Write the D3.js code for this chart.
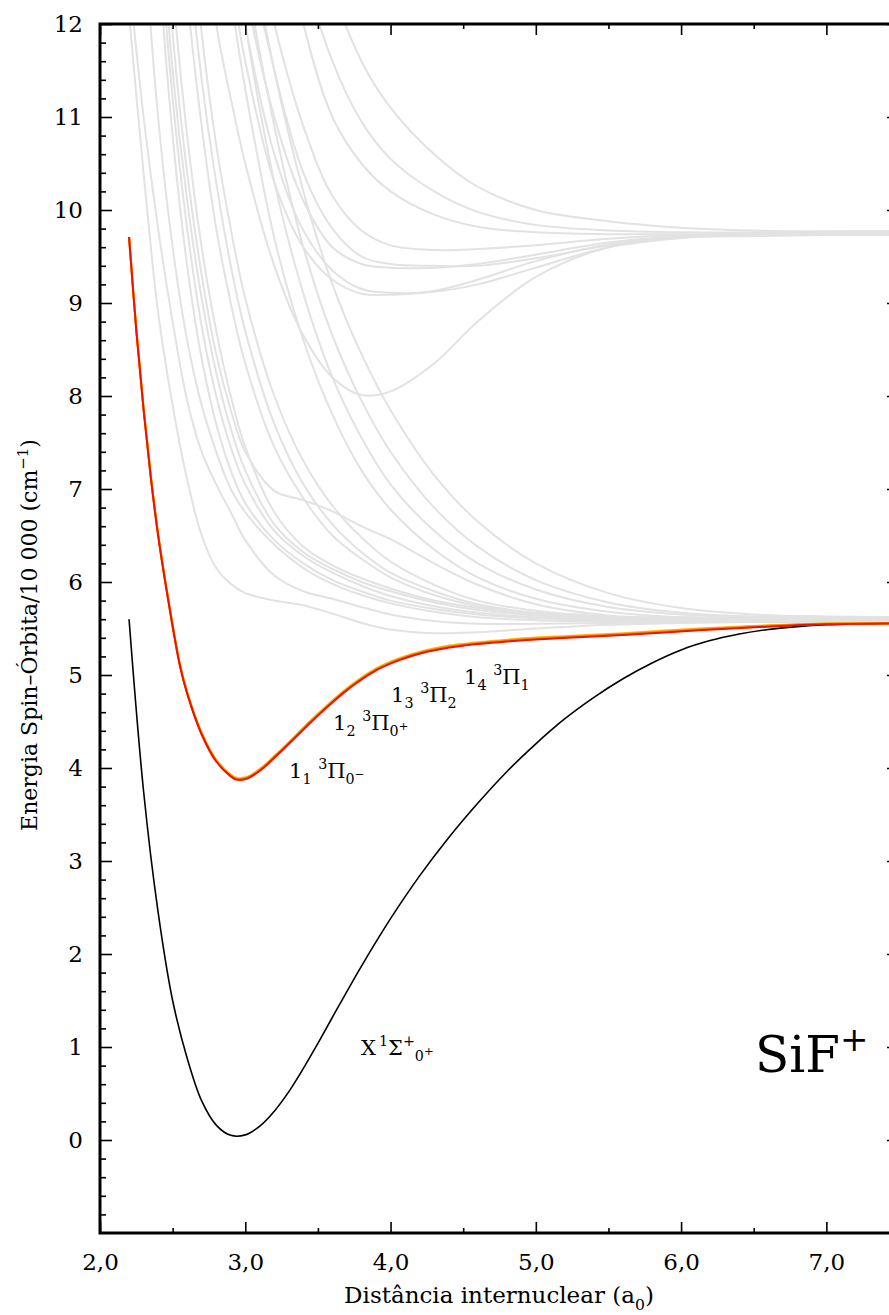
<!DOCTYPE html>
<html>
<head>
<meta charset="utf-8">
<script src="https://cdn.jsdelivr.net/npm/d3@7"></script>
<style>
  body { margin: 0; background: #fff; }
  svg { display: block; }
  text { font-family: "DejaVu Serif", serif; fill: #000; white-space: pre; }
</style>
</head>
<body>
<svg id="chart" width="889" height="1315"></svg>
<script>
// internuclear distances (a0) shared by the grey states
const rGrid = [2.2, 2.3, 2.4, 2.5, 2.6, 2.7, 2.8, 2.9, 3.0, 3.2, 3.4, 3.6, 3.8, 4.0, 4.3, 4.6, 5.0, 5.5, 6.0, 6.5, 7.0, 7.5];

// grey states, lower asymptote
const g1 = [12.1, 10.4, 8.9, 7.9, 7.1, 6.5, 6.15, 5.98, 5.88, 5.80, 5.75, 5.66, 5.56, 5.49, 5.45, 5.46, 5.50, 5.54, 5.56, 5.57, 5.57, 5.57];
const g2 = [12.5, 11.0, 9.8, 8.8, 7.95, 7.4, 7.05, 6.75, 6.45, 6.07, 5.90, 5.82, 5.73, 5.65, 5.58, 5.55, 5.55, 5.56, 5.57, 5.58, 5.58, 5.58];
const g3 = [15.5, 13.0, 11.0, 9.6, 8.6, 7.9, 7.4, 7.0, 6.75, 6.4, 6.15, 5.98, 5.86, 5.77, 5.68, 5.62, 5.59, 5.58, 5.58, 5.59, 5.59, 5.59];
const g4 = [20, 16, 12.8, 10.8, 9.4, 8.4, 7.7, 7.2, 6.85, 6.45, 6.2, 6.02, 5.9, 5.8, 5.71, 5.65, 5.61, 5.59, 5.59, 5.6, 5.6, 5.6];
const g5 = [21, 16.6, 13.2, 11.2, 9.8, 8.75, 8.0, 7.45, 7.05, 6.55, 6.28, 6.1, 5.96, 5.85, 5.74, 5.67, 5.62, 5.6, 5.6, 5.6, 5.6, 5.6];
const g6 = [22, 17.2, 13.6, 11.5, 10.1, 9.05, 8.25, 7.65, 7.2, 6.62, 6.32, 6.14, 6.0, 5.9, 5.78, 5.7, 5.64, 5.61, 5.6, 5.6, 5.61, 5.61];
const g7 = [23, 17.8, 14.2, 11.9, 10.4, 9.3, 8.45, 7.85, 7.4, 6.98, 6.88, 6.76, 6.6, 6.46, 6.2, 5.97, 5.76, 5.64, 5.61, 5.61, 5.61, 5.61];
const g8 = [24, 18.5, 14.8, 12.4, 10.8, 9.6, 8.7, 8.0, 7.45, 6.75, 6.38, 6.18, 6.04, 5.93, 5.8, 5.72, 5.65, 5.62, 5.61, 5.61, 5.62, 5.62];
const m1 = [26, 21, 17, 14, 12.3, 10.9, 9.8, 9.0, 8.35, 7.45, 6.9, 6.5, 6.25, 6.05, 5.86, 5.74, 5.66, 5.61, 5.6, 5.6, 5.6, 5.6];
const m2 = [27, 22, 18, 15, 12.9, 11.4, 10.3, 9.4, 8.7, 7.7, 7.05, 6.62, 6.32, 6.1, 5.9, 5.76, 5.67, 5.62, 5.61, 5.61, 5.61, 5.61];
const m3 = [28, 23, 19, 15.8, 13.5, 11.9, 10.7, 9.8, 9.05, 8.0, 7.3, 6.82, 6.48, 6.22, 5.97, 5.8, 5.69, 5.63, 5.62, 5.62, 5.62, 5.62];
const s1 = [30, 25, 21, 18, 16, 14.6, 13.5, 12.3, 11.3, 9.7, 8.6, 7.8, 7.2, 6.78, 6.35, 6.05, 5.82, 5.68, 5.62, 5.6, 5.6, 5.6];
const s2 = [31, 26, 22, 19, 17, 15.6, 14.5, 13.1, 12.0, 10.3, 9.1, 8.2, 7.55, 7.05, 6.55, 6.2, 5.92, 5.73, 5.65, 5.62, 5.61, 5.61];
const s3 = [32, 27, 23, 20, 18, 16.5, 15.2, 13.8, 12.6, 10.9, 9.6, 8.65, 7.95, 7.4, 6.8, 6.38, 6.02, 5.78, 5.67, 5.63, 5.62, 5.62];
const s4 = [33, 28, 24, 21, 19, 17.3, 16, 14.5, 13.2, 11.5, 10.2, 9.2, 8.45, 7.85, 7.15, 6.65, 6.2, 5.88, 5.72, 5.65, 5.63, 5.62];

// grey states, upper asymptote
const u1 = [24, 20, 17.5, 16, 15, 13.4, 12.0, 11.2, 10.5, 9.4, 8.65, 8.2, 8.01, 8.05, 8.35, 8.8, 9.28, 9.6, 9.7, 9.72, 9.73, 9.73];
const u2 = [26, 22, 19, 17, 15.5, 14.3, 13.4, 12.5, 11.6, 10.3, 9.6, 9.25, 9.1, 9.09, 9.13, 9.25, 9.45, 9.63, 9.71, 9.74, 9.75, 9.75];
const u3 = [27, 23, 20, 18, 16.5, 15.2, 14.1, 13.0, 12.0, 10.6, 9.78, 9.35, 9.15, 9.11, 9.12, 9.2, 9.38, 9.6, 9.7, 9.74, 9.76, 9.76];
const u4 = [28, 24, 21, 19, 17.3, 16.0, 14.8, 13.6, 12.4, 11.0, 10.1, 9.6, 9.42, 9.38, 9.38, 9.42, 9.52, 9.65, 9.72, 9.75, 9.76, 9.76];
const u5 = [29, 25, 22, 20, 18.2, 16.8, 15.5, 14.2, 13.0, 11.5, 10.4, 9.8, 9.5, 9.42, 9.4, 9.4, 9.48, 9.62, 9.71, 9.75, 9.77, 9.77];
const u6 = [30, 26, 23, 21, 19, 17.5, 16.2, 14.8, 13.5, 12.0, 10.9, 10.15, 9.78, 9.62, 9.57, 9.58, 9.62, 9.69, 9.73, 9.75, 9.76, 9.76];
const u7 = [34, 30, 27, 24, 22, 20, 18.5, 17, 15.6, 13.6, 12.0, 11.0, 10.5, 10.2, 9.95, 9.82, 9.76, 9.74, 9.74, 9.74, 9.74, 9.74];
const u8 = [36, 32, 29, 26, 24, 22, 20, 18.2, 16.5, 14.2, 12.6, 11.6, 10.95, 10.55, 10.2, 9.98, 9.84, 9.78, 9.76, 9.76, 9.76, 9.76];
const u9 = [38, 34, 31, 28, 26, 24, 22, 20.5, 19, 16.3, 14.0, 12.4, 11.6, 11.1, 10.6, 10.25, 10.0, 9.88, 9.81, 9.78, 9.77, 9.77];

const greyStates = [g1, g2, g3, g4, g5, g6, g7, g8, m1, m2, m3, s1, s2, s3, s4, u1, u2, u3, u4, u5, u6, u7, u8, u9];

// 3Pi spin-orbit components
const rPi = [2.2, 2.25, 2.3, 2.35, 2.4, 2.47, 2.55, 2.6, 2.7, 2.8, 2.9, 2.94, 3.0, 3.1, 3.2, 3.32, 3.45, 3.56, 3.67, 3.78, 3.9, 4.06, 4.25, 4.47, 4.8, 5.15, 5.6, 6.12, 6.6, 7.0, 7.5];
const pi0m = [9.71, 8.70, 7.85, 7.12, 6.50, 5.80, 5.10, 4.80, 4.36, 4.07, 3.91, 3.875, 3.88, 3.97, 4.11, 4.29, 4.49, 4.65, 4.80, 4.93, 5.05, 5.16, 5.25, 5.31, 5.36, 5.395, 5.43, 5.48, 5.52, 5.545, 5.555];
const pi0p = [9.71, 8.71, 7.86, 7.13, 6.51, 5.81, 5.11, 4.81, 4.37, 4.08, 3.92, 3.885, 3.89, 3.98, 4.12, 4.30, 4.50, 4.66, 4.81, 4.94, 5.06, 5.17, 5.26, 5.32, 5.37, 5.405, 5.44, 5.49, 5.53, 5.55, 5.56];
const pi2 = [9.71, 8.72, 7.87, 7.14, 6.52, 5.82, 5.12, 4.82, 4.38, 4.09, 3.93, 3.895, 3.90, 3.99, 4.13, 4.31, 4.51, 4.67, 4.82, 4.95, 5.07, 5.18, 5.27, 5.33, 5.38, 5.415, 5.45, 5.50, 5.535, 5.555, 5.56];
const pi1 = [9.71, 8.71, 7.86, 7.13, 6.51, 5.81, 5.11, 4.81, 4.37, 4.08, 3.915, 3.88, 3.885, 3.975, 4.115, 4.295, 4.495, 4.655, 4.805, 4.935, 5.055, 5.165, 5.255, 5.315, 5.365, 5.40, 5.435, 5.485, 5.525, 5.55, 5.555];
const piColors = ["#f2c200", "#ffb000", "#ff8800", "#ee1100"];
const piStates = [pi2, pi1, pi0p, pi0m];

// ground state X 1Sigma+
const rX = [2.2, 2.3, 2.4, 2.5, 2.6, 2.7, 2.8, 2.9, 3.0, 3.1, 3.2, 3.3, 3.4, 3.5, 3.6, 3.8, 4.0, 4.2, 4.4, 4.6, 4.8, 5.0, 5.2, 5.4, 5.6, 5.8, 6.0, 6.2, 6.4, 6.6, 6.8, 7.0, 7.2, 7.5];
const eX = [5.60, 3.75, 2.45, 1.5, 0.88, 0.42, 0.16, 0.05, 0.055, 0.15, 0.31, 0.52, 0.77, 1.04, 1.32, 1.87, 2.38, 2.84, 3.25, 3.62, 3.96, 4.26, 4.53, 4.76, 4.96, 5.13, 5.27, 5.37, 5.44, 5.49, 5.52, 5.54, 5.55, 5.555];

const xMajor = [2, 3, 4, 5, 6, 7];
const xMinor = [2.5, 3.5, 4.5, 5.5, 6.5];
const yMajor = d3.range(0, 13);
const yMinor = d3.range(-5, 60).map(d => d / 5).filter(d => d % 1 !== 0);

const svg = d3.select("#chart");
const mLeft = 100, mRight = 899, mTop = 24, mBottom = 1233;

const x = d3.scaleLinear().domain([2, 7.5]).range([mLeft, mRight]);
const y = d3.scaleLinear().domain([-1, 12]).range([mBottom, mTop]);

svg.append("clipPath").attr("id", "plotclip")
  .append("rect").attr("x", mLeft).attr("y", mTop).attr("width", mRight - mLeft).attr("height", mBottom - mTop);

const plot = svg.append("g").attr("clip-path", "url(#plotclip)");

const line = d3.line().curve(d3.curveCatmullRom.alpha(0.5));

greyStates.forEach(e => {
  plot.append("path")
    .attr("d", line(rGrid.map((r, i) => [x(r), y(e[i])])))
    .attr("fill", "none").attr("stroke", "#e2e2e2").attr("stroke-width", 2);
});

plot.append("path")
  .attr("d", line(rX.map((r, i) => [x(r), y(eX[i])])))
  .attr("fill", "none").attr("stroke", "#000").attr("stroke-width", 1.6);

piStates.forEach((e, k) => {
  plot.append("path")
    .attr("d", line(rPi.map((r, i) => [x(r), y(e[i])])))
    .attr("fill", "none").attr("stroke", piColors[k]).attr("stroke-width", 2);
});

// axes: ticks point inward on all four sides
function styleAxis(g) {
  g.select(".domain").remove();
  g.selectAll(".tick line").attr("stroke", "#000").attr("stroke-width", 1.6);
  g.selectAll("text").attr("font-family", "DejaVu Serif").attr("font-size", 23).attr("fill", "#000");
}
const fmt = d => d.toFixed(1).replace(".", ",");

svg.append("g").attr("transform", `translate(0,${mBottom})`)
  .call(d3.axisBottom(x).tickValues(xMajor).tickSize(-11).tickPadding(21).tickFormat(fmt)).call(styleAxis);
svg.append("g").attr("transform", `translate(0,${mBottom})`)
  .call(d3.axisBottom(x).tickValues(xMinor).tickSize(-5).tickFormat("")).call(styleAxis);
svg.append("g").attr("transform", `translate(0,${mTop})`)
  .call(d3.axisTop(x).tickValues(xMajor).tickSize(-11).tickFormat("")).call(styleAxis);
svg.append("g").attr("transform", `translate(0,${mTop})`)
  .call(d3.axisTop(x).tickValues(xMinor).tickSize(-5).tickFormat("")).call(styleAxis);
svg.append("g").attr("transform", `translate(${mLeft},0)`)
  .call(d3.axisLeft(y).tickValues(yMajor).tickSize(-12).tickPadding(17).tickFormat(d3.format("d"))).call(styleAxis);
svg.append("g").attr("transform", `translate(${mLeft},0)`)
  .call(d3.axisLeft(y).tickValues(yMinor).tickSize(-6).tickFormat("")).call(styleAxis);
svg.append("g").attr("transform", `translate(${mRight},0)`)
  .call(d3.axisRight(y).tickValues(yMajor).tickSize(-12).tickFormat("")).call(styleAxis);
svg.append("g").attr("transform", `translate(${mRight},0)`)
  .call(d3.axisRight(y).tickValues(yMinor).tickSize(-6).tickFormat("")).call(styleAxis);

svg.append("rect")
  .attr("x", mLeft).attr("y", mTop).attr("width", mRight - mLeft).attr("height", mBottom - mTop)
  .attr("fill", "none").attr("stroke", "#000").attr("stroke-width", 3);

// text with sub/superscripts
function rich(parent, x0, y0, size, parts, anchor) {
  const t = parent.append("text").attr("x", x0).attr("y", y0)
    .attr("font-size", size).attr("text-anchor", anchor || "start");
  let prev = 0;
  parts.forEach(([s, k, dx]) => {
    const sh = { n: 0, sub: 0.3, sup: -0.42, ss: 0.0 }[k] * size;
    const fs = k === "n" ? size : k === "ss" ? size * 0.55 : size * 0.68;
    t.append("tspan").attr("dy", sh - prev).attr("dx", dx || 0).attr("font-size", fs).text(s);
    prev = sh;
  });
  return t;
}

rich(svg, 289, 778, 21, [["1", "n"], ["1", "sub"], [" ", "n"], ["3", "sup"], ["Π", "n"], ["0", "sub"], ["−", "ss"]]);
rich(svg, 333, 730, 21, [["1", "n"], ["2", "sub"], [" ", "n"], ["3", "sup"], ["Π", "n"], ["0", "sub"], ["+", "ss"]]);
rich(svg, 391, 702, 21, [["1", "n"], ["3", "sub"], [" ", "n"], ["3", "sup"], ["Π", "n"], ["2", "sub"]]);
rich(svg, 464, 684, 21, [["1", "n"], ["4", "sub"], [" ", "n"], ["3", "sup"], ["Π", "n"], ["1", "sub"]]);
rich(svg, 361, 1055, 21, [["X", "n"], ["1", "sup", 3], ["Σ", "n"], ["+", "sup"], ["0", "sub"], ["+", "ss"]]);
rich(svg, 755, 1072, 50, [["SiF", "n"], ["+", "sup"]]);

rich(svg, 499, 1303, 23, [["Distância internuclear (a", "n"], ["0", "sub"], [")", "n"]], "middle");
rich(svg.append("g").attr("transform", "translate(37,635) rotate(-90)"), 0, 0, 22,
  [["Energia Spin–Órbita/10 000 (cm", "n"], ["−1", "sup"], [")", "n"]], "middle");
</script>
</body>
</html>
